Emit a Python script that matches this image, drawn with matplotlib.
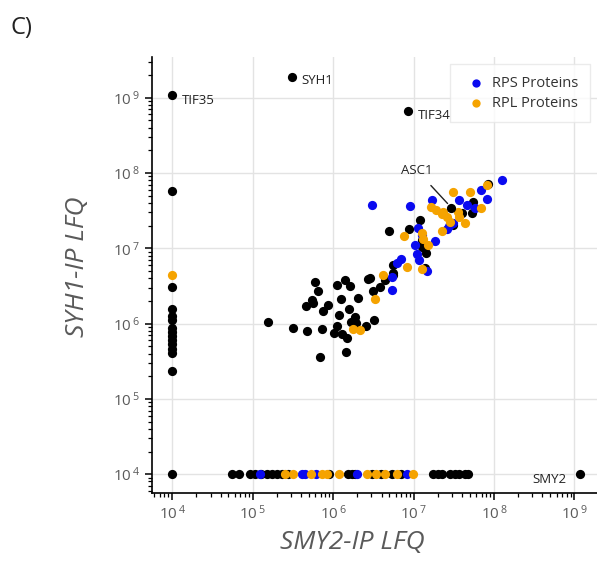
import numpy as np
import matplotlib
matplotlib.use("Agg")
import matplotlib.pyplot as plt
from matplotlib.ticker import LogLocator, FuncFormatter, NullFormatter

plt.rcParams["font.family"] = ["Open Sans", "DejaVu Sans"]
plt.rcParams["mathtext.fontset"] = "custom"
plt.rcParams["mathtext.rm"] = "Open Sans"

# all values are log10(LFQ); missing values were plotted at 10^4
other_x = [4, 4, 4, 4, 4, 4, 4, 4, 4, 4, 4, 4, 4,
           5.19, 5.50, 5.68, 5.86, 5.84, 5.78, 5.81, 5.66, 5.74, 5.75, 5.88, 5.94,
           6.05, 6.15, 6.21, 6.10, 6.07, 6.20, 6.01, 6.05, 6.11, 6.17, 6.22, 6.27,
           6.28, 6.16, 6.31, 6.41, 6.51, 6.44, 6.50, 6.58, 6.65, 6.75, 6.74,
           6.70, 6.94, 7.08, 7.10, 7.11, 7.15, 7.60, 7.74, 7.73, 7.93, 7.49, 7.14,
           6.75, 6.46]
other_y = [7.76, 6.48, 6.20, 6.10, 6.05, 5.94, 5.89, 5.83, 5.78, 5.73, 5.66, 5.61, 5.37,
           6.02, 5.94, 5.90, 5.93, 5.55, 6.55, 6.43, 6.23, 6.31, 6.27, 6.17, 6.25,
           6.51, 6.58, 6.50, 6.33, 6.12, 6.19, 5.87, 5.97, 5.86, 5.81, 6.02, 6.09,
           6.01, 5.62, 6.34, 5.97, 6.05, 6.59, 6.43, 6.49, 6.58, 6.64, 6.78,
           7.23, 7.25, 7.37, 7.11, 7.02, 6.94, 7.47, 7.62, 7.47, 7.85, 7.31, 6.74,
           6.67, 6.61]
other_bottom_x = [4.0, 4.74, 4.83, 4.97, 5.03, 5.11, 5.18, 5.24, 5.30, 5.36, 5.44,
                  5.95, 6.18, 6.23, 6.27, 6.49, 6.60, 6.73, 6.85,
                  7.24, 7.30, 7.35, 7.45, 7.51, 7.57, 7.64, 7.68]

rps_x = [6.48, 6.96, 7.23, 7.57, 7.66, 7.77, 7.91, 7.84, 8.10, 7.06, 7.11, 7.02,
         7.44, 7.41, 7.49, 7.27, 7.04, 7.07, 6.84, 6.79, 7.17, 6.73, 6.73]
rps_y = [7.58, 7.56, 7.64, 7.64, 7.58, 7.54, 7.65, 7.77, 7.91, 7.27, 7.17, 7.04,
         7.29, 7.26, 7.33, 7.09, 6.92, 6.84, 6.86, 6.80, 6.70, 6.45, 6.62]
rps_bottom_x = [5.09, 5.61, 5.65, 5.79, 6.30, 6.92]

rpl_x = [7.49, 7.70, 7.91, 7.22, 7.28, 7.35, 7.42, 7.55, 7.57, 7.64, 7.84, 7.35,
         6.88, 7.10, 7.12, 7.18, 6.92, 7.10, 6.62, 7.37, 7.45,
         6.25, 6.34, 6.52, 4.0]
rpl_y = [7.75, 7.75, 7.84, 7.55, 7.51, 7.46, 7.42, 7.48, 7.42, 7.34, 7.53, 7.23,
         7.16, 7.20, 7.12, 7.05, 6.75, 6.73, 6.65, 7.48, 7.35,
         5.93, 5.92, 6.32, 6.64]
rpl_bottom_x = [5.40, 5.50, 5.73, 5.86, 5.93, 6.07, 6.42, 6.53, 6.64, 6.79, 6.99]

named = ["TIF35", "SYH1", "TIF34", "ASC1", "SMY2"]
named_x = [4.0, 5.49, 6.93, 7.47, 9.07]
named_y = [9.03, 9.28, 8.82, 7.54, 4.0]
named_offset = [(7, -4), (7, -3), (7, -3), (-25, 27), (-10, -4)]

BLUE = "#0a0af0"
ORANGE = "#f5a300"
GREY = "#5a5a5a"


def lin(v):
    return 10.0 ** np.asarray(v, dtype=float)


fig = plt.figure(figsize=(5.97, 5.61), dpi=100)
ax = fig.add_axes([0.2546, 0.1212, 0.7454, 0.7772])

ms = 44
ax.scatter(lin(other_x), lin(other_y), s=ms, color="black", lw=0, zorder=3)
ax.scatter(lin(other_bottom_x), lin([4] * len(other_bottom_x)), s=ms, color="black", lw=0, zorder=3)
ax.scatter(lin(rps_x), lin(rps_y), s=ms, color=BLUE, lw=0, zorder=4, label="RPS Proteins")
ax.scatter(lin(rps_bottom_x), lin([4] * len(rps_bottom_x)), s=ms, color=BLUE, lw=0, zorder=4)
ax.scatter(lin(rpl_x), lin(rpl_y), s=ms, color=ORANGE, lw=0, zorder=5, label="RPL Proteins")
ax.scatter(lin(rpl_bottom_x), lin([4] * len(rpl_bottom_x)), s=ms, color=ORANGE, lw=0, zorder=5)
ax.scatter(lin(named_x), lin(named_y), s=ms, color="black", lw=0, zorder=6)

for name, x, y, off in zip(named, named_x, named_y, named_offset):
    if name == "ASC1":
        ax.annotate(name, (lin(x), lin(y)), xytext=off, textcoords="offset points",
                    ha="center", va="center", fontsize=9.5, color="#222222",
                    arrowprops=dict(arrowstyle="-", color="#222222", lw=1,
                                    shrinkA=6, shrinkB=4), zorder=7)
    elif name == "SMY2":
        ax.annotate(name, (lin(x), lin(y)), xytext=off, textcoords="offset points",
                    ha="right", va="center", fontsize=9.5, color="#222222", zorder=7)
    else:
        ax.annotate(name, (lin(x), lin(y)), xytext=off, textcoords="offset points",
                    ha="left", va="center", fontsize=9.5, color="#222222", zorder=7)

ax.set_xscale("log")
ax.set_yscale("log")
ax.set_xlim(10 ** 3.75, 10 ** 9.28)
ax.set_ylim(10 ** 3.75, 10 ** 9.54)

fmt = FuncFormatter(lambda v, p: r"$\mathregular{10^{\,%d}}$" % round(np.log10(v)))
for axis in (ax.xaxis, ax.yaxis):
    axis.set_major_locator(LogLocator(base=10, numticks=20))
    axis.set_minor_locator(LogLocator(base=10, subs=np.arange(2, 10), numticks=20))
    axis.set_major_formatter(fmt)
    axis.set_minor_formatter(NullFormatter())

ax.tick_params(which="major", length=5, width=1.1, labelsize=11, labelcolor=GREY)
ax.tick_params(which="minor", length=3, width=0.9)
ax.grid(True, which="major", color="#e3e3e3", lw=1)
ax.set_axisbelow(True)

for s in ("top", "right"):
    ax.spines[s].set_visible(False)
for s in ("left", "bottom"):
    ax.spines[s].set_linewidth(1.2)

ax.set_xlabel("SMY2-IP LFQ", fontsize=19, style="italic", color=GREY)
ax.xaxis.set_label_coords(0.45, -0.085)
ax.set_ylabel("SYH1-IP LFQ", fontsize=19, style="italic", color=GREY)
ax.yaxis.set_label_coords(-0.14, 0.52)

leg = ax.legend(loc="upper right", bbox_to_anchor=(0.984, 0.984), borderaxespad=0,
                fontsize=10.5, handletextpad=0.1, markerscale=0.9, frameon=True,
                fancybox=False, edgecolor="#e6e6e6", borderpad=0.8, labelspacing=0.35)
for t in leg.get_texts():
    t.set_color("#333333")

fig.text(0.017, 0.95, "C)", fontsize=17, color="#222222", ha="left", va="center")

fig.savefig("out.png", dpi=100)
